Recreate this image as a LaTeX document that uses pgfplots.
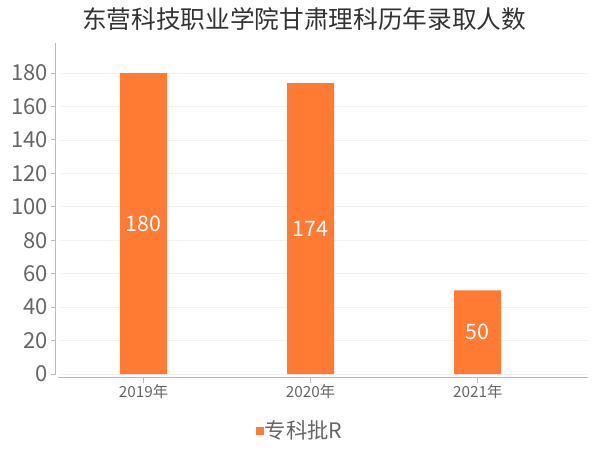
\documentclass[border=0pt]{standalone}
\usepackage{pgfplots}
\pgfplotsset{compat=1.18}
\usepackage{fontspec}
\setmainfont{Noto Sans CJK SC}
\definecolor{barorange}{HTML}{FF7A33}
\definecolor{axisgray}{HTML}{BBBBBB}
\definecolor{gridgray}{HTML}{F2F2F2}
\definecolor{ticktext}{HTML}{666666}
\definecolor{titletext}{HTML}{333333}

\begin{document}
\begin{tikzpicture}
\path[use as bounding box] (0,0) rectangle (450pt,337.5pt);
\node[text=titletext, font=\fontsize{18.5}{21}\selectfont] at (228pt,323pt) {东营科技职业学院甘肃理科历年录取人数};
\begin{axis}[
    at={(45pt,57pt)}, anchor=south west,
    scale only axis,
    width=396pt, height=248.25pt,
    xmin=-0.5, xmax=2.66,
    ymin=0, ymax=198,
    clip=false,
    axis line style={draw=none},
    xtick={0,1,2},
    xticklabels={2019年,2020年,2021年},
    ytick={0,20,...,180},
    major tick length=0pt,
    tick style={draw=none},
    ymajorgrids,
    grid style={color=gridgray, line width=0.6pt},
    /pgf/number format/assume math mode=true,
    yticklabel style={anchor=east, inner sep=0pt, xshift=-9pt, text=ticktext, font=\fontsize{16.5}{18}\selectfont},
    xticklabel style={anchor=north, inner sep=0pt, yshift=-8pt, text=ticktext, font=\fontsize{11.5}{13}\selectfont},
    legend style={at={(0.4545,-0.172)}, anchor=center, draw=none, fill=none,
        font=\fontsize{16}{18}\selectfont, text=ticktext, nodes={inner sep=1pt}},
    legend image code/.code={\fill[barorange] (0pt,-2.75pt) rectangle (5.5pt,2.75pt);},
]
\addplot[ybar, bar width=35.25pt, fill=barorange, draw=none,
    nodes near coords,
    visualization depends on={rawy \as \rawy},
    every node near coord/.append style={anchor=center, text=white,
        font=\fontsize{16}{18}\selectfont,
        shift={(axis direction cs:0,-\rawy/2)}},
] coordinates {(0,180) (1,174) (2,50)};
\addlegendentry{专科批R}
\pgfplotsinvokeforeach{0,1,2}{
  \draw[axisgray, line width=0.75pt] ([yshift=-3pt]axis cs:#1,0) -- ([yshift=-6.75pt]axis cs:#1,0);
}
\pgfplotsinvokeforeach{0,20,...,180}{
  \draw[axisgray, line width=0.75pt] ([xshift=-3.75pt]axis cs:-0.5,#1) -- ([xshift=-6.75pt]axis cs:-0.5,#1);
}
\end{axis}
\draw[axisgray, line width=0.75pt] (41.25pt,56.25pt) -- (41.25pt,305.25pt);
\draw[axisgray, line width=0.75pt] (43.5pt,54pt) -- (441pt,54pt);
\end{tikzpicture}
\end{document}
